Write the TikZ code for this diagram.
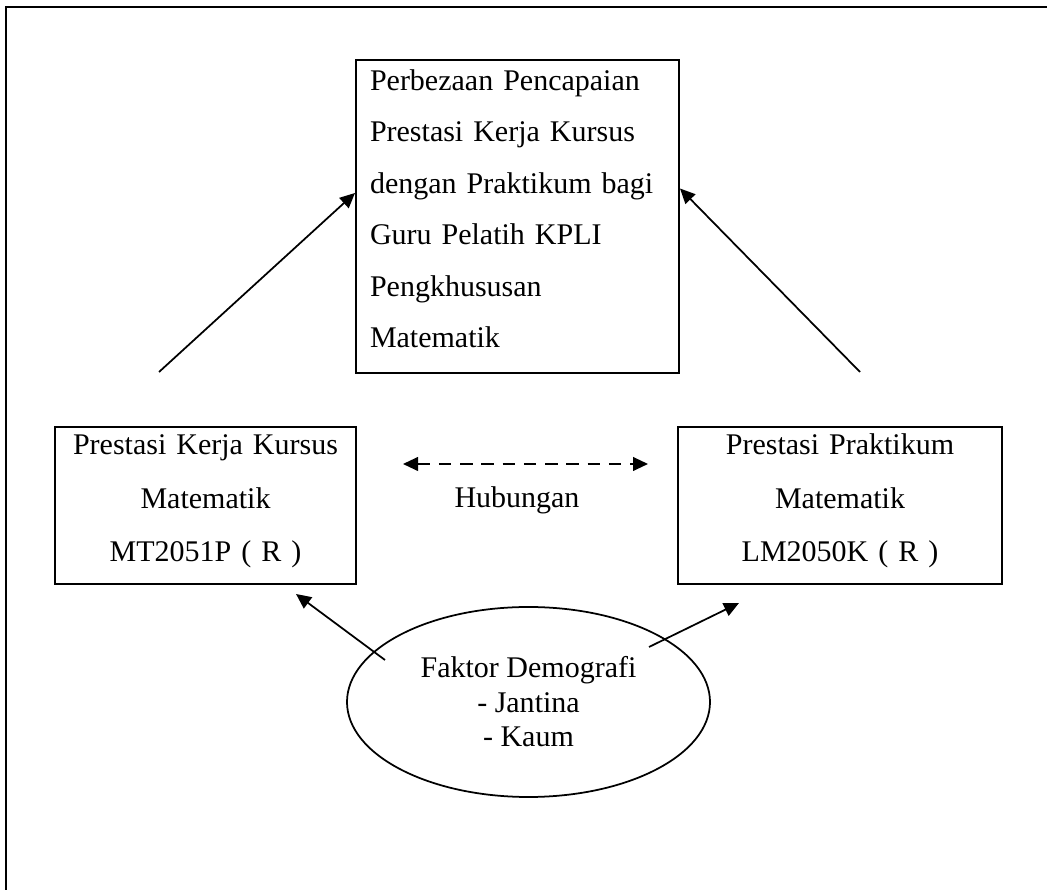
\documentclass[tikz,border=0pt]{standalone}
\usepackage{fontspec}
\setmainfont{Liberation Serif}
\usetikzlibrary{shapes,arrows.meta,calc}
\newcommand{\atas}[1]{\rule{0pt}{#1}}
\newcommand{\bawah}[1]{\rule[-#1]{0pt}{#1}}

\begin{document}
\begin{tikzpicture}[x=0.4pt,y=-0.4pt,>={Triangle[length=6pt,width=5.5pt]},line width=.7pt,
    font=\fontsize{12}{13.8}\selectfont,
    kotak/.style={draw,line width=.8pt,inner sep=0pt,align=center,
      font=\fontsize{12}{21.4}\selectfont}]
  \useasboundingbox (0,0) rectangle (1047,890);
  \draw [line width=.8pt] (6,890) -- (6,7) -- (1047,7);

  \node [kotak, align=left, text width=118pt, inner xsep=5.6pt, minimum height=125.2pt,
    font=\fontsize{12}{20.6}\selectfont] (P) at (517.5,216.5)
    {\atas{12pt}Perbezaan Pencapaian\\ Prestasi Kerja Kursus\\ dengan Praktikum bagi\\
     Guru Pelatih KPLI\\ Pengkhususan\\ Matematik\bawah{10pt}};
  \node [kotak, text width=120.4pt, minimum height=62.8pt] (K) at (205.5,505.5)
    {\atas{11.2pt}Prestasi Kerja Kursus\\ Matematik\\ MT2051P ( R )\bawah{8.8pt}};
  \node [kotak, text width=129.6pt, minimum height=62.8pt] (L) at (840,505.5)
    {\atas{11.2pt}Prestasi Praktikum\\ Matematik\\ LM2050K ( R )\bawah{8.8pt}};
  \node [draw, ellipse, inner sep=0pt, minimum width=145.2pt, minimum height=76pt,
    align=center] (D) at (528.5,702) {Faktor Demografi\\ - Jantina\\ - Kaum};
  \node [anchor=base] (H) at (517,508) {Hubungan};

  \coordinate (a1) at (159,372);
  \coordinate (a2) at (860,372);
  \coordinate (a3) at (385,660);
  \coordinate (a4) at (649,647);

  \draw [->] (a1) -- ($(P.west)+(0,-23.5)$);
  \draw [->] (a2) -- ($(P.east)+(0,-28)$);
  \draw [->] (a3) -- ($(K.south east)+(-61,9)$);
  \draw [->] (a4) -- ($(L.south west)+(62,18)$);
  \draw [<->, dash pattern=on 5pt off 3.5pt] ($(K.east)+(46,-41.5)$) -- ($(L.west)+(-29,-41.5)$);
\end{tikzpicture}
\end{document}
